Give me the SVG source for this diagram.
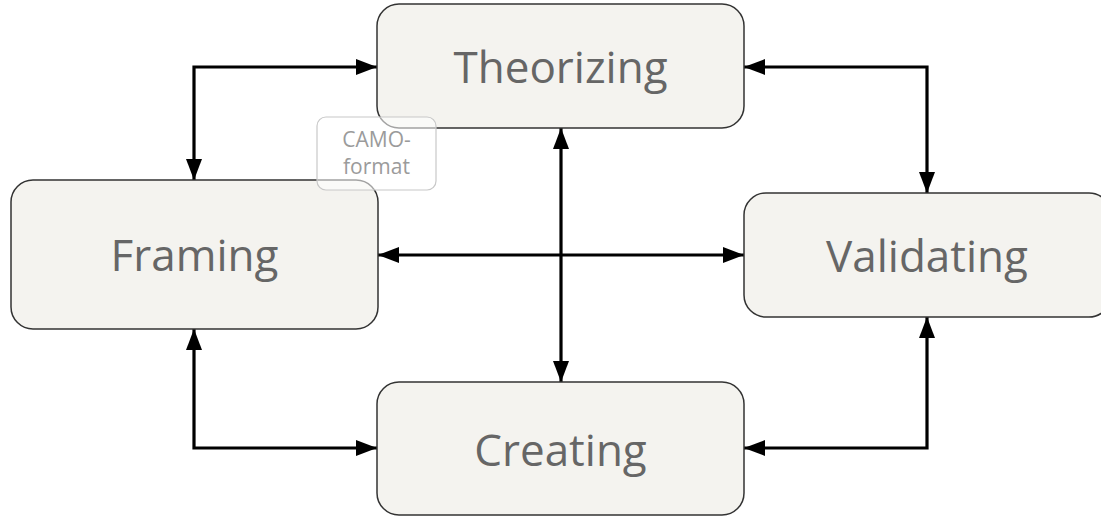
<svg xmlns="http://www.w3.org/2000/svg" width="1101" height="516" viewBox="0 0 1101 516">
  <defs>
    <marker id="arrow" viewBox="0 0 21 16" refX="21" refY="8" markerWidth="21" markerHeight="16" markerUnits="userSpaceOnUse" orient="auto-start-reverse">
      <path d="M0,0 L21,8 L0,16 Z" fill="#000"/>
    </marker>
    <style>
      .node rect { fill: #f4f3ef; stroke: #333; stroke-width: 1.5; }
      .node text { font-family: "Open Sans", "Noto Sans", sans-serif; font-size: 44px; fill: #666; text-anchor: middle; }
      .edge { fill: none; stroke: #000; stroke-width: 3.2; marker-start: url(#arrow); marker-end: url(#arrow); }
      .note rect { fill: #ffffff; fill-opacity: 0.55; stroke: #c8c8c8; stroke-width: 1.2; }
      .note text { font-family: "Open Sans", "Noto Sans", sans-serif; font-size: 21px; fill: #9b9b9b; text-anchor: middle; }
    </style>
  </defs>

  <!-- connectors -->
  <g id="connectors">
    <path class="edge" d="M194,180 L194,67 L377,67"/>
    <path class="edge" d="M744,67 L927,67 L927,193"/>
    <path class="edge" d="M378,255 L744,255"/>
    <path class="edge" d="M561,128 L561,382"/>
    <path class="edge" d="M194,329 L194,448 L377,448"/>
    <path class="edge" d="M927,317 L927,448 L744,448"/>
  </g>

  <!-- nodes -->
  <g id="theorizing" class="node">
    <rect x="377" y="4" width="367" height="124" rx="22"/>
    <text x="560.5" y="83">Theorizing</text>
  </g>
  <g id="framing" class="node">
    <rect x="11" y="180" width="367" height="149" rx="22"/>
    <text x="194.5" y="271">Framing</text>
  </g>
  <g id="validating" class="node">
    <rect x="744" y="193" width="367" height="124" rx="22"/>
    <text x="927" y="272">Validating</text>
  </g>
  <g id="creating" class="node">
    <rect x="377" y="382" width="367" height="133" rx="22"/>
    <text x="560.5" y="466">Creating</text>
  </g>

  <!-- annotation -->
  <g id="camo-format" class="note">
    <rect x="317" y="117" width="119" height="73" rx="9"/>
    <text x="376.5" y="147">CAMO-</text>
    <text x="376.5" y="174">format</text>
  </g>
</svg>
